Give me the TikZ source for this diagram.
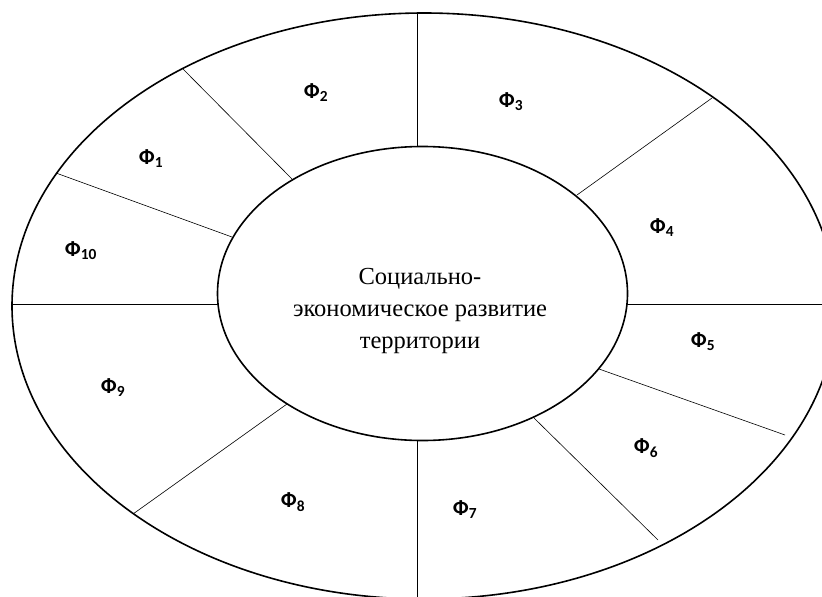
\documentclass[tikz,border=0pt]{standalone}
\usepackage{fontspec}
\setmainfont{Liberation Serif}
\newfontfamily\sectorfont{Carlito}
\usepackage{tikz}
\usetikzlibrary{positioning}

\tikzset{
  ring/.style={line width=1.6pt},
  divider/.style={line width=0.6pt},
  sector/.style={font=\sectorfont\bfseries\fontsize{22}{24}\selectfont}
}

\begin{document}
\begin{tikzpicture}[x=1pt,y=-1pt]
            \useasboundingbox (0,0) rectangle (822,597);
            \draw[ring] (424,306) ellipse [x radius=412, y radius=293];
            \draw[ring] (422.5,293.5) ellipse [x radius=205, y radius=147];
            \node[align=center,font=\fontsize{24.5}{32}\selectfont] (centre) at (420,311) {Социально-\\экономическое развитие\\территории};
            % dividers: inner end, outer end
            \foreach \n/\ix/\iy/\ox/\oy in {1/232/237/56/173, 2/293/180/182/68, 3/417/147/417/13, 4/577/195/712/98, 5/627/304/822/304, 6/599/369/785/435, 7/534/418/658/540, 8/417/440/417/597, 9/287/404/133/514, 10/218/304/12/304} {
              \coordinate (in\n) at (\ix,\iy);
              \coordinate (out\n) at (\ox,\oy);
            }
            \foreach \n in {1,...,10} \draw[divider] (in\n) -- (out\n);
            % factors
            \foreach \n/\x/\y in {1/151/159, 2/316/93, 3/511/102, 4/662/228, 5/703/342, 6/646/448, 7/465/510, 8/293/502, 9/113/388, 10/81/251}
              \node[sector] (f\n) at (\x,\y) {Ф\textsubscript{\n}};
        \end{tikzpicture}
\end{document}
